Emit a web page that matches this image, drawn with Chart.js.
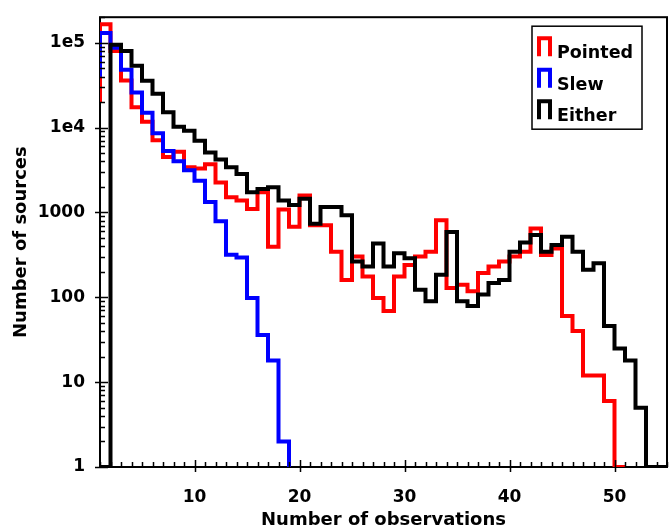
<!DOCTYPE html>
<html>
<head>
<meta charset="utf-8">
<title>Number of observations per source</title>
<script src="https://cdn.jsdelivr.net/npm/chart.js"></script>
<style>
  html, body { margin: 0; padding: 0; background: #fff; }
  #chart { display: block; }
</style>
</head>
<body>
<canvas id="chart" width="671" height="531"></canvas>
<script>
// Left edges of the histogram bins: bin n covers [n, n+1) observations
const binEdges = [0, 1, 2, 3, 4, 5, 6, 7, 8, 9, 10, 11, 12, 13, 14, 15, 16, 17, 18, 19,
    20, 21, 22, 23, 24, 25, 26, 27, 28, 29, 30, 31, 32, 33, 34, 35, 36, 37, 38, 39,
    40, 41, 42, 43, 44, 45, 46, 47, 48, 49, 50, 51, 52, 53, 54, 55];

// Number of sources per bin
const pointed = [21000, 165000, 80000, 36000, 17400, 11700, 7100, 4500, 5200, 3400,
    3300, 3700, 2260, 1510, 1380, 1100, 1730, 395, 1080, 680,
    1580, 706, 706, 345, 160, 302, 176, 98, 69, 176,
    241, 302, 345, 809, 129, 141, 118, 193, 231, 264,
    302, 345, 646, 316, 377, 60, 40, 12, 12, 6,
    1, 0];
const slew = [42000, 130000, 87000, 48000, 26000, 15000, 8600, 5300, 4000, 3150,
    2370, 1330, 790, 318, 295, 98, 36, 18, 2, 0];
const either = [0, 0, 95000, 80000, 53500, 35700, 25000, 15200, 10200, 9200,
    7000, 5070, 4200, 3400, 2830, 1730, 1890, 1980, 1380, 1220,
    1450, 738, 1160, 1160, 925, 264, 231, 431, 231, 330,
    289, 123, 90, 185, 590, 90, 79, 108, 147, 160,
    345, 443, 541, 345, 413, 516, 345, 211, 252, 46,
    25, 18, 5, 1, 1];

const xTickValues = [10, 20, 30, 40, 50];
const yTickValues = [1, 10, 100, 1000, 10000, 100000];
const yTickLabels = ['1', '10', '100', '1000', '1e4', '1e5'];

const Y_MIN = 1, Y_MAX = 200000;

Chart.defaults.font.family = "'DejaVu Sans', sans-serif";
Chart.defaults.font.weight = 'bold';
Chart.defaults.color = '#000';

// turn bin counts into step points, closing the last bin on its right edge.
// empty bins can't go on a log axis, so they sit on the bottom of the plot
function stepPoints(counts) {
    const pts = counts.map((c, i) => ({ x: binEdges[i], y: c > 0 ? c : Y_MIN }));
    const last = counts.length - 1;
    if (counts[last] > 0) pts.push({ x: binEdges[last + 1], y: counts[last] });
    return pts;
}

// box round the plot plus inward tick marks (minor + major)
const frameTicks = {
    id: 'frameTicks',
    beforeDatasetsDraw(chart) {
        const { ctx, chartArea: a } = chart;
        ctx.save();
        ctx.strokeStyle = '#000';
        ctx.lineWidth = 2;
        ctx.strokeRect(a.left, a.top, a.right - a.left, a.bottom - a.top);
        ctx.restore();
    },
    afterDatasetsDraw(chart) {
        const { ctx, chartArea: a, scales: { x, y } } = chart;
        ctx.save();
        ctx.strokeStyle = '#000';
        ctx.lineWidth = 1.5;
        ctx.beginPath();
        for (let v = Math.ceil(x.min); v <= x.max; v++) {
            const px = Math.round(x.getPixelForValue(v)) + 0.5;
            const major = v % 10 === 0;
            ctx.moveTo(px, a.bottom + (major ? 5 : 0));
            ctx.lineTo(px, a.bottom - (major ? 7 : 5));
        }
        for (let d = 1; d <= y.max; d *= 10) {
            for (let k = 1; k < 10; k++) {
                const v = d * k;
                if (v > y.max) break;
                const py = Math.round(y.getPixelForValue(v)) + 0.5;
                const major = k === 1;
                ctx.moveTo(a.left - (major ? 5 : 0), py);
                ctx.lineTo(a.left + (major ? 8 : 5), py);
            }
        }
        ctx.stroke();
        ctx.restore();
    }
};

// boxed legend in the top right corner with histogram-step symbols
const boxLegend = {
    id: 'boxLegend',
    afterDraw(chart) {
        const { ctx, chartArea: a } = chart;
        const left = a.right - 135, top = a.top + 9;
        ctx.save();
        ctx.fillStyle = '#fff';
        ctx.fillRect(left, top, 110, 103);
        ctx.strokeStyle = '#000';
        ctx.lineWidth = 1.5;
        ctx.strokeRect(left, top, 110, 103);
        ctx.font = "bold 17.5px 'DejaVu Sans', sans-serif";
        ctx.textBaseline = 'alphabetic';
        chart.data.datasets.forEach((ds, i) => {
            const base = top + 32 + i * 31.5;
            ctx.strokeStyle = ds.borderColor;
            ctx.lineWidth = 4;
            ctx.beginPath();
            ctx.moveTo(left + 7, base - 2);
            ctx.lineTo(left + 7, base - 20);
            ctx.lineTo(left + 18, base - 20);
            ctx.lineTo(left + 18, base - 2);
            ctx.stroke();
            ctx.fillStyle = '#000';
            ctx.fillText(ds.label, left + 25, base);
        });
        ctx.restore();
    }
};

const lineStyle = {
    borderWidth: 4,
    pointRadius: 0,
    fill: false,
    stepped: 'before'
};

new Chart(document.getElementById('chart'), {
    type: 'line',
    data: {
        datasets: [
            { ...lineStyle, label: 'Pointed', data: stepPoints(pointed), borderColor: '#ff0000', order: 3 },
            { ...lineStyle, label: 'Slew', data: stepPoints(slew), borderColor: '#0000ff', order: 2 },
            { ...lineStyle, label: 'Either', data: stepPoints(either), borderColor: '#000000', order: 1 }
        ]
    },
    options: {
        responsive: false,
        animation: false,
        layout: { padding: { top: 13, right: 4, left: 0, bottom: 0 } },
        plugins: {
            legend: { display: false },
            tooltip: { enabled: false }
        },
        scales: {
            x: {
                type: 'linear',
                min: 1,
                max: 55,
                grid: { display: false },
                border: { display: false },
                afterBuildTicks: s => { s.ticks = xTickValues.map(v => ({ value: v })); },
                afterFit: s => { s.height = 64; },
                ticks: {
                    padding: 12,
                    maxRotation: 0,
                    autoSkip: false,
                    color: '#000',
                    font: { size: 17, weight: 'bold' }
                },
                title: {
                    display: true,
                    text: 'Number of observations',
                    color: '#000',
                    padding: 0,
                    font: { size: 18, weight: 'bold' }
                }
            },
            y: {
                type: 'logarithmic',
                min: Y_MIN,
                max: Y_MAX,
                grid: { display: false },
                border: { display: false },
                afterBuildTicks: s => { s.ticks = yTickValues.map(v => ({ value: v })); },
                afterFit: s => { s.width = 100; },
                ticks: {
                    padding: 7,
                    autoSkip: false,
                    color: '#000',
                    font: { size: 17, weight: 'bold' },
                    callback: v => yTickLabels[yTickValues.indexOf(v)]
                },
                title: {
                    display: true,
                    text: 'Number of sources',
                    color: '#000',
                    padding: { top: 11, bottom: 0 },
                    font: { size: 18, weight: 'bold' }
                }
            }
        }
    },
    plugins: [frameTicks, boxLegend]
});
</script>
</body>
</html>
